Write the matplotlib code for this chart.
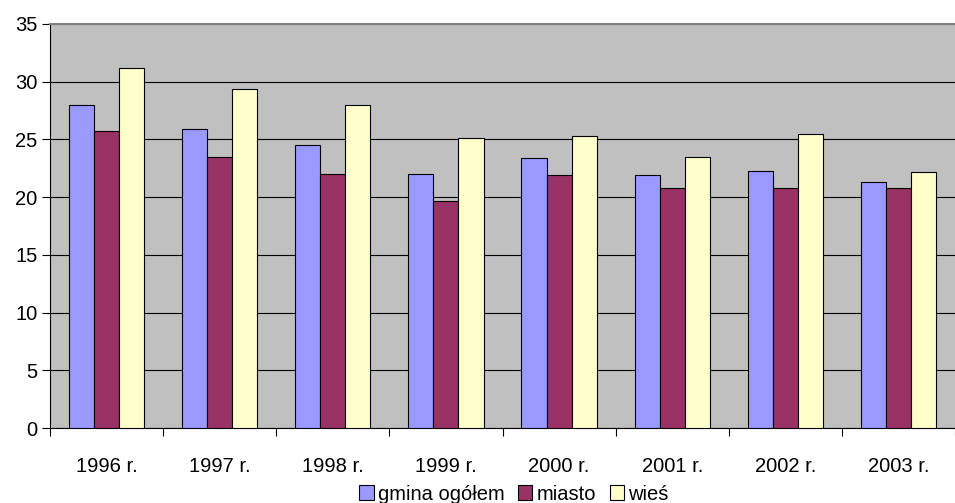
import matplotlib
matplotlib.use('Agg')
from matplotlib import pyplot as plt
import numpy as np

# dane
lata = ['1996 r.', '1997 r.', '1998 r.', '1999 r.', '2000 r.', '2001 r.', '2002 r.', '2003 r.']
gmina = [28.0, 25.9, 24.5, 22.0, 23.4, 21.9, 22.3, 21.3]
miasto = [25.7, 23.5, 22.0, 19.7, 21.9, 20.8, 20.8, 20.8]
wies = [31.2, 29.4, 28.0, 25.1, 25.3, 23.5, 25.5, 22.2]

plt.rcParams['font.family'] = ['Liberation Sans', 'DejaVu Sans']

fig = plt.figure(figsize=(9.55, 5.03), dpi=100)
ax = fig.add_axes([50 / 955, 75 / 503, 905 / 955, 404 / 503])
ax.set_facecolor('#C0C0C0')

x = np.arange(len(lata))
w = 0.222
series = [(gmina, '#9999FF', 'gmina ogółem'),
          (miasto, '#993366', 'miasto'),
          (wies, '#FFFFCC', 'wieś')]
for i, (vals, col, lab) in enumerate(series):
    ax.bar(x + (i - 1) * w, vals, width=w, color=col, edgecolor='black',
           linewidth=0.8, label=lab, zorder=3)

ax.set_xlim(-0.5, len(lata) - 0.5)
ax.set_ylim(0, 35)
ax.set_yticks(range(0, 36, 5))
ax.yaxis.grid(True, color='black', linewidth=0.8, zorder=1)
ax.set_axisbelow(True)

# etykiety lat miedzy kreskami podzialki
ax.set_xticks(np.arange(len(lata) + 1) - 0.5)
ax.set_xticklabels([])
ax.set_xticks(x, minor=True)
ax.set_xticklabels(lata, minor=True)
ax.tick_params(axis='x', which='minor', length=0, pad=21, labelsize=14.5)
ax.tick_params(axis='x', which='major', length=6, direction='out')
ax.tick_params(axis='y', length=6, direction='out', labelsize=14.5, pad=3)

ax.spines['top'].set_color('#808080')
ax.spines['top'].set_linewidth(1.5)
ax.spines['right'].set_visible(False)
ax.spines['left'].set_color('black')
ax.spines['bottom'].set_color('black')

fig.legend(loc='center', bbox_to_anchor=(514 / 955, 9 / 503), ncol=3,
           frameon=False, fontsize=14.5, handlelength=0.7, handleheight=0.7,
           handletextpad=0.2, columnspacing=0.7, borderpad=0)

fig.savefig('out.png', dpi=100)
